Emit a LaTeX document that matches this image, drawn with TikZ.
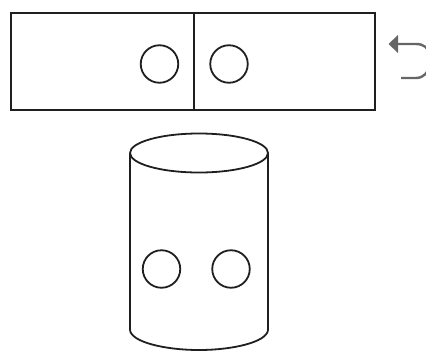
\documentclass[tikz,border=0pt]{standalone}
\usetikzlibrary{arrows.meta}
\tikzset{
  ink/.style={draw=black!88,line width=2.1pt},
  thinink/.style={draw=black!88,line width=1.8pt},
  hole/.style={circle,thinink,minimum size=37.5pt,inner sep=0pt,outer sep=0pt},
  turn/.style={draw=black!60,line width=2.4pt}
}
\begin{document}
\begin{tikzpicture}[x=1pt,y=-1pt]
\useasboundingbox (0,0) rectangle (426,351);
% flat unrolled sheet
\node[hole] (a) at (159.5,64) {};
\node[hole] (b) at (229,64) {};
\draw[ink] (11,13) rectangle (375,110);
\draw[ink] (194,13) -- (194,110);
% cylinder
\draw[thinink] (130,153) arc[start angle=180,end angle=-180,x radius=69,y radius=-19.5];
\draw[thinink] (130,153) -- (130,330)
  .. controls (131,342) and (165,350) .. (199,350)
  .. controls (233,350) and (267,342) .. (268,330) -- (268,153);
\node[hole] (c) at (161.5,269) {};
\node[hole] (d) at (231,269) {};
% turn arrow
\begin{scope}
\clip (380,30) rectangle (426,90);
\draw[turn] (401,78) -- (416,78) .. controls (424,78) and (428,72) .. (430,66);
\draw[turn] (396,44) -- (416,44) .. controls (424,44) and (428,48) .. (430,54);
\fill[black!60] (388.5,44) -- (398,35) -- (398,53) -- cycle;
\end{scope}
\end{tikzpicture}
\end{document}
